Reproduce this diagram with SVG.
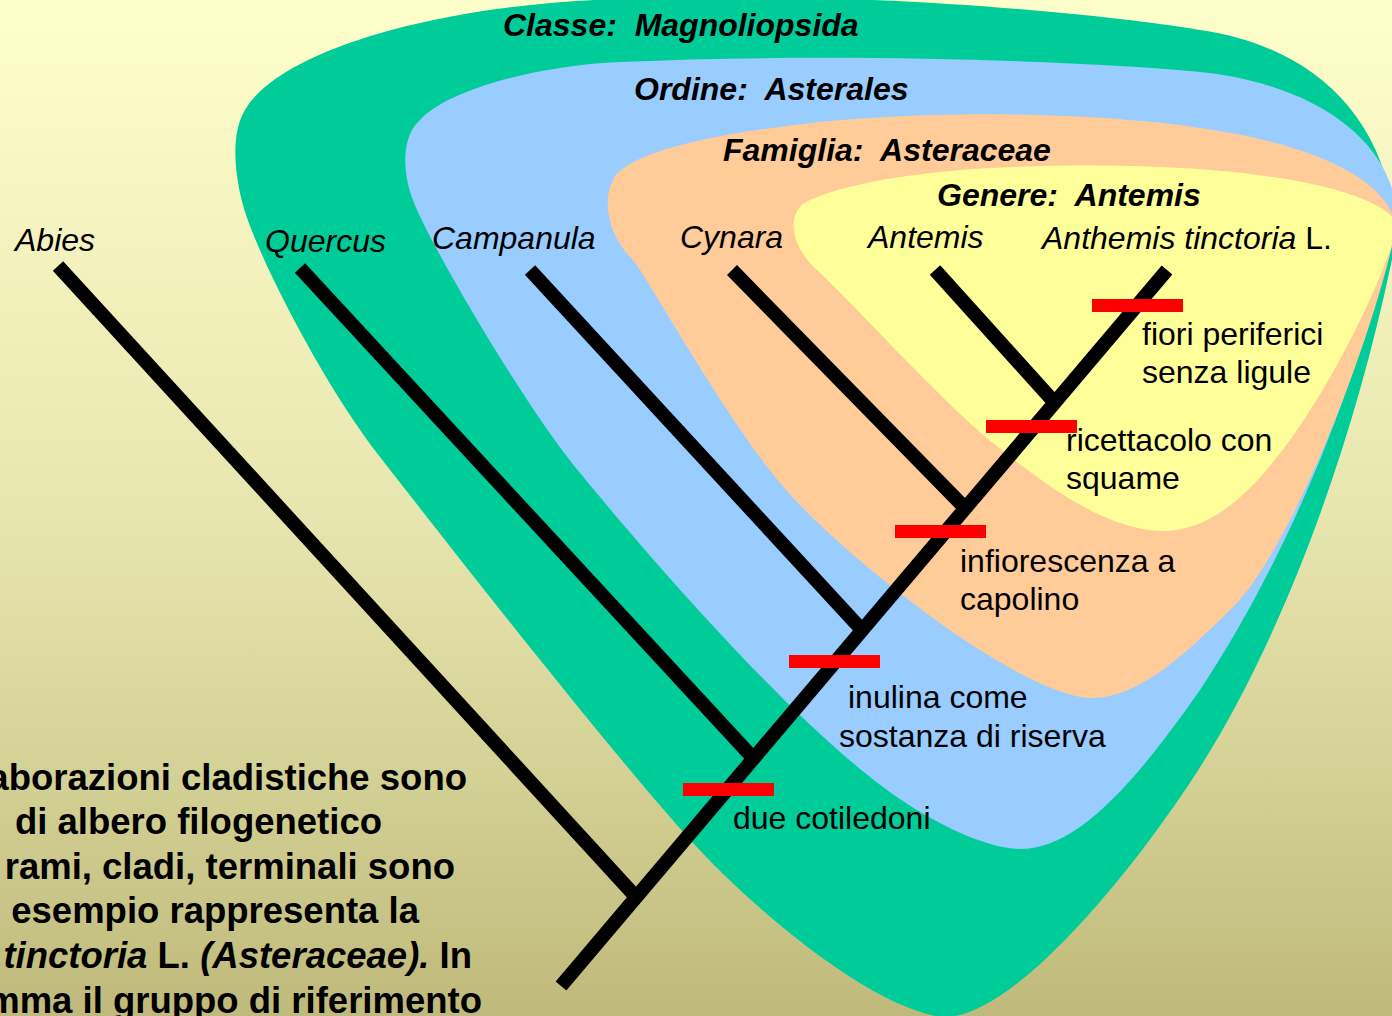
<svg xmlns="http://www.w3.org/2000/svg" width="1392" height="1016" viewBox="0 0 1392 1016">
<defs>
<linearGradient id="bg" x1="0" y1="0" x2="0" y2="1">
<stop offset="0" stop-color="#FFFFCC"/>
<stop offset="0.5" stop-color="#E8E6B0"/>
<stop offset="0.75" stop-color="#D5D297"/>
<stop offset="1" stop-color="#BFBA7B"/>
</linearGradient>
<style>
.br{stroke:#000;stroke-width:14;stroke-linecap:butt;fill:none}
.bar{fill:#FF0000}
.t{font-family:"Liberation Sans",Arial,sans-serif;font-size:32px;fill:#000}
.ti{font-family:"Liberation Sans",Arial,sans-serif;font-size:32px;font-style:italic;fill:#000}
.tt{font-family:"Liberation Sans",Arial,sans-serif;font-size:32px;font-style:italic;font-weight:bold;fill:#000}
.tb{font-family:"Liberation Sans",Arial,sans-serif;font-size:36.5px;font-weight:bold;fill:#000}
</style>
</defs>
<rect width="1392" height="1016" fill="url(#bg)"/>
<g id="classe">
<path fill="#00CC99" d="M 935 1016 C 1000 1030, 1120 890, 1195 775 C 1270 660, 1350 470, 1396 240 C 1390 110, 1305 45, 1200 30 C 1090 12, 850 -10, 620 -1 C 440 4, 280 50, 245 110 C 230 135, 235 175, 243 205 C 255 250, 320 380, 380 457 C 430 521, 600 740, 693 843 C 750 905, 860 1000, 935 1016 Z"/>
<text class="tt" x="503" y="36" xml:space="preserve">Classe:  Magnoliopsida</text>
</g>
<g id="ordine">
<path fill="#99CCFF" d="M 1020 849 C 1075 849, 1130 790, 1200 690 C 1260 600, 1350 430, 1397 212 C 1388 130, 1300 82, 1200 72 C 1100 62, 850 52, 620 62 C 530 66, 445 92, 420 120 C 398 140, 405 180, 413 200 C 425 235, 520 400, 580 473 C 640 546, 780 710, 883 787 C 935 826, 990 849, 1020 849 Z"/>
<text class="tt" x="634" y="100" xml:space="preserve">Ordine:  Asterales</text>
</g>
<g id="famiglia">
<path fill="#FFCC99" d="M 1093 698 C 1140 698, 1190 650, 1233 607 C 1290 550, 1370 350, 1397 225 C 1385 180, 1320 145, 1200 128 C 1080 110, 900 110, 780 127 C 700 137, 625 155, 613 180 C 600 205, 612 240, 633 260 C 648 278, 720 410, 780 483 C 835 550, 1020 698, 1093 698 Z"/>
<text class="tt" x="723" y="161" xml:space="preserve">Famiglia:  Asteraceae</text>
</g>
<g id="genere">
<path fill="#FFFF99" d="M 1163 531 C 1210 531, 1250 495, 1290 440 C 1330 385, 1380 290, 1398 225 C 1385 195, 1290 172, 1160 167 C 1020 162, 880 170, 810 200 C 785 210, 790 245, 815 268 C 850 300, 940 400, 993 443 C 1040 481, 1105 531, 1163 531 Z"/>
<text class="tt" x="937" y="206" xml:space="preserve">Genere:  Antemis</text>
</g>
<g id="connectors">
<line class="br" x1="561" y1="986" x2="1167" y2="270"/>
<line class="br" x1="58" y1="266" x2="636" y2="897"/>
<line class="br" x1="300" y1="268" x2="754" y2="759"/>
<line class="br" x1="530" y1="270" x2="862" y2="630"/>
<line class="br" x1="732" y1="270" x2="965" y2="508"/>
<line class="br" x1="935" y1="270" x2="1055" y2="403"/>
</g>
<g id="taxa">
<text class="ti" x="15" y="251">Abies</text>
<text class="ti" x="265" y="252">Quercus</text>
<text class="ti" x="432" y="249">Campanula</text>
<text class="ti" x="680" y="248">Cynara</text>
<text class="ti" x="868" y="248">Antemis</text>
<text class="t" x="1042" y="249"><tspan font-style="italic">Anthemis tinctoria</tspan> L.</text>
</g>
<g id="char1"><rect class="bar" x="1092" y="299" width="91" height="13"/><text class="t" x="1142" y="345">fiori periferici</text><text class="t" x="1142" y="383">senza ligule</text></g>
<g id="char2"><rect class="bar" x="986" y="420" width="91" height="13"/><text class="t" x="1066" y="451">ricettacolo con</text><text class="t" x="1066" y="489">squame</text></g>
<g id="char3"><rect class="bar" x="895" y="525" width="91" height="13"/><text class="t" x="960" y="572">infiorescenza a</text><text class="t" x="960" y="610">capolino</text></g>
<g id="char4"><rect class="bar" x="789" y="655" width="91" height="13"/><text class="t" x="848" y="708">inulina come</text><text class="t" x="839" y="747">sostanza di riserva</text></g>
<g id="char5"><rect class="bar" x="683" y="783" width="91" height="13"/><text class="t" x="733" y="829">due cotiledoni</text></g>
<g id="caption" text-anchor="end">
<text class="tb" x="467" y="790">aborazioni cladistiche sono</text>
<text class="tb" x="382" y="834">di albero filogenetico</text>
<text class="tb" x="455" y="879">rami, cladi, terminali sono</text>
<text class="tb" x="419" y="923">esempio rappresenta la</text>
<text class="tb" x="472" y="968"><tspan font-style="italic">tinctoria</tspan> L. <tspan font-style="italic">(Asteraceae).</tspan> In</text>
<text class="tb" x="482" y="1013">mma il gruppo di riferimento</text>
</g>
</svg>
